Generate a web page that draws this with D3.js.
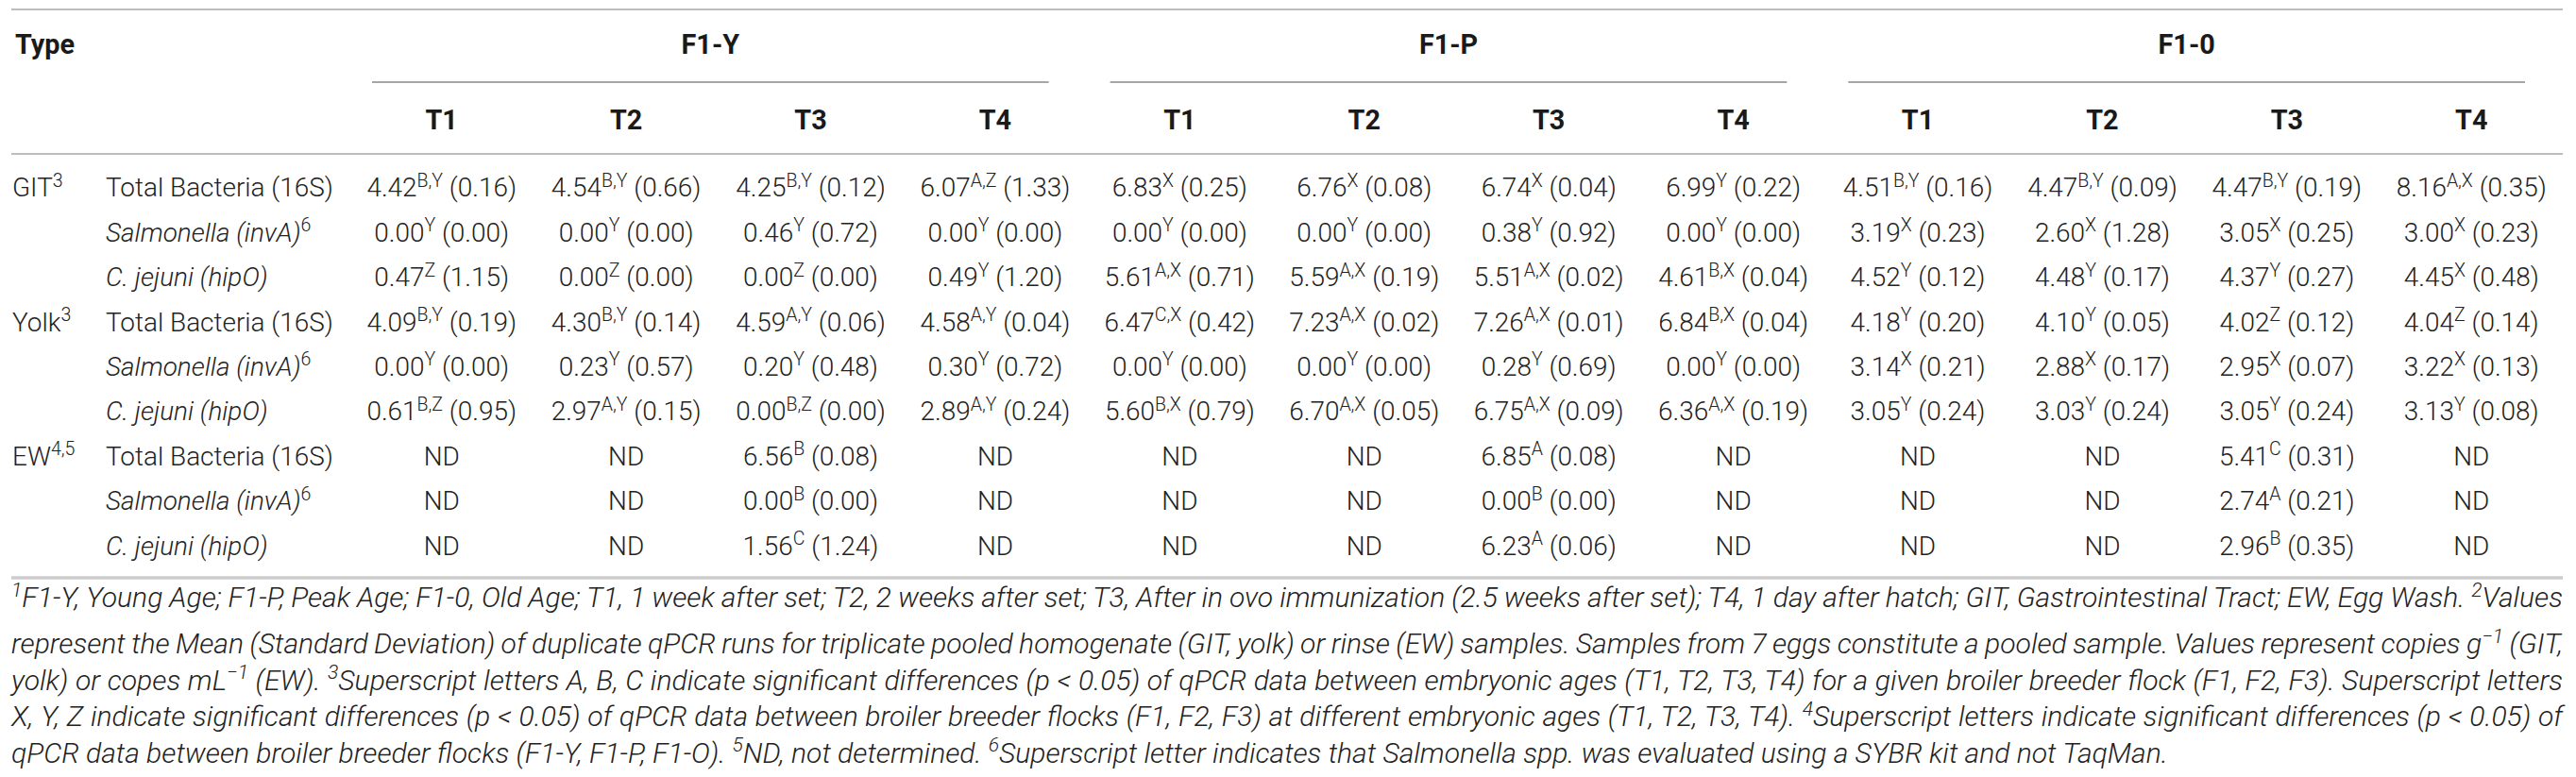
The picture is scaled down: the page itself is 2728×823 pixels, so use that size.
<!DOCTYPE html>
<html>
<head>
<meta charset="utf-8">
<script src="https://cdn.jsdelivr.net/npm/d3@7/dist/d3.min.js"></script>
<style>
    body { margin: 0; background: #fff; }
    text { font-family: Roboto, "Liberation Sans", Arial, sans-serif; }
</style>
</head>
<body>
<div id="table"></div>
<script>
// table structure
var flocks = ["F1-Y", "F1-P", "F1-0"];
var times = ["T1", "T2", "T3", "T4"];
var typeNames = ["GIT", "Yolk", "EW"];
var typeNotes = ["3", "3", "4,5"];
var assayNames = ["Total Bacteria (16S)", "Salmonella (invA)", "C. jejuni (hipO)"];
var assayNotes = ["", "6", ""];
var assayItalic = [false, true, true];

// mean values, one row per type x assay (null = ND)
var means = [
    [4.42, 4.54, 4.25, 6.07, 6.83, 6.76, 6.74, 6.99, 4.51, 4.47, 4.47, 8.16],
    [0.00, 0.00, 0.46, 0.00, 0.00, 0.00, 0.38, 0.00, 3.19, 2.60, 3.05, 3.00],
    [0.47, 0.00, 0.00, 0.49, 5.61, 5.59, 5.51, 4.61, 4.52, 4.48, 4.37, 4.45],
    [4.09, 4.30, 4.59, 4.58, 6.47, 7.23, 7.26, 6.84, 4.18, 4.10, 4.02, 4.04],
    [0.00, 0.23, 0.20, 0.30, 0.00, 0.00, 0.28, 0.00, 3.14, 2.88, 2.95, 3.22],
    [0.61, 2.97, 0.00, 2.89, 5.60, 6.70, 6.75, 6.36, 3.05, 3.03, 3.05, 3.13],
    [null, null, 6.56, null, null, null, 6.85, null, null, null, 5.41, null],
    [null, null, 0.00, null, null, null, 0.00, null, null, null, 2.74, null],
    [null, null, 1.56, null, null, null, 6.23, null, null, null, 2.96, null]
];

// superscript letters
var letters = [
    ["B,Y", "B,Y", "B,Y", "A,Z", "X", "X", "X", "Y", "B,Y", "B,Y", "B,Y", "A,X"],
    ["Y", "Y", "Y", "Y", "Y", "Y", "Y", "Y", "X", "X", "X", "X"],
    ["Z", "Z", "Z", "Y", "A,X", "A,X", "A,X", "B,X", "Y", "Y", "Y", "X"],
    ["B,Y", "B,Y", "A,Y", "A,Y", "C,X", "A,X", "A,X", "B,X", "Y", "Y", "Z", "Z"],
    ["Y", "Y", "Y", "Y", "Y", "Y", "Y", "Y", "X", "X", "X", "X"],
    ["B,Z", "A,Y", "B,Z", "A,Y", "B,X", "A,X", "A,X", "A,X", "Y", "Y", "Y", "Y"],
    ["", "", "B", "", "", "", "A", "", "", "", "C", ""],
    ["", "", "B", "", "", "", "B", "", "", "", "A", ""],
    ["", "", "C", "", "", "", "A", "", "", "", "B", ""]
];

// standard deviations
var sds = [
    [0.16, 0.66, 0.12, 1.33, 0.25, 0.08, 0.04, 0.22, 0.16, 0.09, 0.19, 0.35],
    [0.00, 0.00, 0.72, 0.00, 0.00, 0.00, 0.92, 0.00, 0.23, 1.28, 0.25, 0.23],
    [1.15, 0.00, 0.00, 1.20, 0.71, 0.19, 0.02, 0.04, 0.12, 0.17, 0.27, 0.48],
    [0.19, 0.14, 0.06, 0.04, 0.42, 0.02, 0.01, 0.04, 0.20, 0.05, 0.12, 0.14],
    [0.00, 0.57, 0.48, 0.72, 0.00, 0.00, 0.69, 0.00, 0.21, 0.17, 0.07, 0.13],
    [0.95, 0.15, 0.00, 0.24, 0.79, 0.05, 0.09, 0.19, 0.24, 0.24, 0.24, 0.08],
    [null, null, 0.08, null, null, null, 0.08, null, null, null, 0.31, null],
    [null, null, 0.00, null, null, null, 0.00, null, null, null, 0.21, null],
    [null, null, 1.24, null, null, null, 0.06, null, null, null, 0.35, null]
];

// footnote lines, [text, isSuperscript]
var footnotes = [
    [["1", 1], ["F1-Y, Young Age; F1-P, Peak Age; F1-0, Old Age; T1, 1 week after set; T2, 2 weeks after set; T3, After in ovo immunization (2.5 weeks after set); T4, 1 day after hatch; GIT, Gastrointestinal Tract; EW, Egg Wash. ", 0], ["2", 1], ["Values", 0]],
    [["represent the Mean (Standard Deviation) of duplicate qPCR runs for triplicate pooled homogenate (GIT, yolk) or rinse (EW) samples. Samples from 7 eggs constitute a pooled sample. Values represent copies g", 0], ["\u22121", 1], [" (GIT,", 0]],
    [["yolk) or copes mL", 0], ["\u22121", 1], [" (EW). ", 0], ["3", 1], ["Superscript letters A, B, C indicate significant differences (p < 0.05) of qPCR data between embryonic ages (T1, T2, T3, T4) for a given broiler breeder flock (F1, F2, F3). Superscript letters", 0]],
    [["X, Y, Z indicate significant differences (p < 0.05) of qPCR data between broiler breeder flocks (F1, F2, F3) at different embryonic ages (T1, T2, T3, T4). ", 0], ["4", 1], ["Superscript letters indicate significant differences (p < 0.05) of", 0]],
    [["qPCR data between broiler breeder flocks (F1-Y, F1-P, F1-O). ", 0], ["5", 1], ["ND, not determined. ", 0], ["6", 1], ["Superscript letter indicates that Salmonella spp. was evaluated using a SYBR kit and not TaqMan.", 0]]
];

var width = 2728, height = 823;
var left = 12, right = 2714;
var textColor = "#222";

var svg = d3.select("#table").append("svg")
    .attr("width", width)
    .attr("height", height);

// columns: one band per flock x time
var colKeys = [];
flocks.forEach(function(f) { times.forEach(function(t) { colKeys.push(f + "|" + t); }); });
var x = d3.scaleBand().domain(colKeys).range([370, 2715]);
function cx(key) { return x(key) + x.bandwidth() / 2; }

// rows
var rowIdx = d3.range(means.length);
var y = d3.scaleBand().domain(rowIdx).range([175, 175 + 47.4 * means.length]);
function cy(i) { return y(i) + y.bandwidth() / 2; }

// fit font sizes to measured widths
function measure(str, size, weight, style) {
    var t = svg.append("text").attr("font-size", size).attr("font-weight", weight)
        .attr("font-style", style).text(str);
    var w = t.node().getComputedTextLength();
    t.remove();
    return w;
}
var bodySize = 100 * 241 / measure("Total Bacteria (16S)", 100, 300, "normal");
var headSize = 100 * 63 / measure("Type", 100, 700, "normal");

// horizontal rules
svg.append("line").attr("x1", left).attr("x2", right).attr("y1", 10).attr("y2", 10)
    .attr("stroke", "#bdbdbd").attr("stroke-width", 2);
svg.append("line").attr("x1", left).attr("x2", right).attr("y1", 163).attr("y2", 163)
    .attr("stroke", "#bdbdbd").attr("stroke-width", 2);
svg.append("line").attr("x1", left).attr("x2", right).attr("y1", 612).attr("y2", 612)
    .attr("stroke", "#cccccc").attr("stroke-width", 3.5);

// header
svg.append("text")
    .attr("x", 16).attr("y", 47).attr("dy", "0.35em")
    .attr("font-size", headSize).attr("font-weight", 700).attr("fill", "#1a1a1a")
    .text("Type");

flocks.forEach(function(f) {
    var x1 = x(f + "|T1") + 24;
    var x2 = x(f + "|T4") + x.bandwidth() - 41;
    svg.append("line").attr("x1", x1).attr("x2", x2).attr("y1", 87).attr("y2", 87)
        .attr("stroke", "#a6a6a6").attr("stroke-width", 2);
    svg.append("text")
        .attr("x", (x1 + x2) / 2).attr("y", 47).attr("dy", "0.35em")
        .attr("text-anchor", "middle")
        .attr("font-size", headSize).attr("font-weight", 700).attr("fill", "#1a1a1a")
        .text(f);
});

svg.selectAll(".timeLabel")
    .data(colKeys)
    .enter()
    .append("text")
    .attr("class", "timeLabel")
    .attr("x", function(d) { return cx(d); })
    .attr("y", 127).attr("dy", "0.35em")
    .attr("text-anchor", "middle")
    .attr("font-size", headSize).attr("font-weight", 700).attr("fill", "#1a1a1a")
    .text(function(d) { return d.split("|")[1]; });

// row labels
rowIdx.forEach(function(i) {
    var ti = Math.floor(i / 3), ai = i % 3;
    if (ai == 0) {
        var t = svg.append("text")
            .attr("x", 13).attr("y", cy(i)).attr("dy", "0.35em")
            .attr("font-size", bodySize).attr("font-weight", 300).attr("fill", textColor);
        t.append("tspan").text(typeNames[ti]);
        t.append("tspan").attr("font-size", bodySize * 0.7).attr("dy", -bodySize * 0.38).text(typeNotes[ti]);
    }
    var a = svg.append("text")
        .attr("x", 112).attr("y", cy(i)).attr("dy", "0.35em")
        .attr("font-size", bodySize).attr("font-weight", 300).attr("fill", textColor)
        .attr("font-style", assayItalic[ai] ? "italic" : "normal");
    a.append("tspan").text(assayNames[ai]);
    if (assayNotes[ai]) {
        a.append("tspan").attr("font-style", "normal").attr("font-size", bodySize * 0.7)
            .attr("dy", -bodySize * 0.38).text(assayNotes[ai]);
    }
});

// cells
rowIdx.forEach(function(i) {
    colKeys.forEach(function(k, j) {
        var t = svg.append("text")
            .attr("x", cx(k)).attr("y", cy(i)).attr("dy", "0.35em")
            .attr("text-anchor", "middle")
            .attr("font-size", bodySize).attr("font-weight", 300).attr("fill", textColor);
        if (means[i][j] === null) {
            t.text("ND");
            return;
        }
        t.append("tspan").text(means[i][j].toFixed(2));
        t.append("tspan").attr("font-size", bodySize * 0.7).attr("dy", -bodySize * 0.38)
            .text(letters[i][j]);
        t.append("tspan").attr("dy", bodySize * 0.38).text(" (" + sds[i][j].toFixed(2) + ")");
    });
});

// footnotes
function drawNote(parts, yy, size) {
    var t = svg.append("text")
        .attr("x", left).attr("y", yy).attr("dy", "0.35em")
        .attr("font-size", size).attr("font-weight", 300).attr("font-style", "italic")
        .attr("fill", textColor);
    var raised = false;
    parts.forEach(function(p) {
        var s = t.append("tspan").text(p[0]);
        if (p[1]) {
            s.attr("font-size", size * 0.7).attr("dy", raised ? 0 : -size * 0.38);
            raised = true;
        } else if (raised) {
            s.attr("dy", size * 0.38);
            raised = false;
        }
    });
    return t;
}

// size from the last (unjustified) line: 12 -> 2297
var probe = drawNote(footnotes[4], -100, 100);
var noteSize = 100 * 2285 / probe.node().getComputedTextLength();
probe.remove();

footnotes.forEach(function(parts, i) {
    var t = drawNote(parts, 643 + 38.5 * i, noteSize);
    if (i < footnotes.length - 1) {
        // justify to the full width
        var full = parts.map(function(p) { return p[0]; }).join("");
        var spaces = full.split(" ").length - 1;
        var extra = (right - left - t.node().getComputedTextLength()) / spaces;
        t.style("word-spacing", extra + "px");
    }
});
</script>
</body>
</html>
